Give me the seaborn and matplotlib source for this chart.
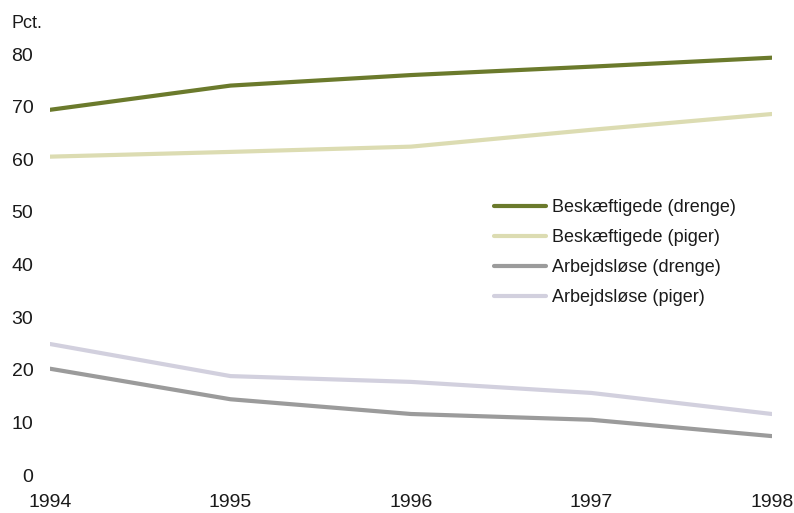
import matplotlib
matplotlib.use("Agg")
import matplotlib.pyplot as plt
import seaborn as sns
import pandas as pd

years = [1994, 1995, 1996, 1997, 1998]
besk_drenge = [69.4, 74.0, 76.0, 77.6, 79.3]
besk_piger = [60.5, 61.4, 62.4, 65.6, 68.6]
arb_drenge = [20.2, 14.4, 11.6, 10.5, 7.4]
arb_piger = [24.9, 18.8, 17.7, 15.6, 11.6]
series_names = ["Beskæftigede (drenge)", "Beskæftigede (piger)",
                "Arbejdsløse (drenge)", "Arbejdsløse (piger)"]
y_ticks = [0, 10, 20, 30, 40, 50, 60, 70, 80]
x_ticks = [1994, 1995, 1996, 1997, 1998]

colors = ["#6b7a2c", "#dcdcb2", "#9b9b9b", "#d2d0de"]

sns.set_style("white")
plt.rcParams["font.family"] = ["Liberation Sans", "DejaVu Sans"]

rows = []
for name, vals in zip(series_names, [besk_drenge, besk_piger, arb_drenge, arb_piger]):
    for y, v in zip(years, vals):
        rows.append({"year": y, "value": v, "series": name})
df = pd.DataFrame(rows)

fig = plt.figure(figsize=(7.94, 5.13), dpi=100)
ax = fig.add_axes([0.063, 0.074, 0.909, 0.8207])
sns.lineplot(data=df, x="year", y="value", hue="series", hue_order=series_names,
             palette=colors, linewidth=3, ax=ax, legend=True)

ax.set_xlim(1994, 1998)
ax.set_ylim(0, 80)
ax.set_xticks(x_ticks)
ax.set_yticks(y_ticks)
ax.set_xticklabels([str(x) for x in x_ticks], fontsize=14, color="#1a1a1a")
ax.set_yticklabels([str(v) for v in y_ticks], fontsize=14, color="#1a1a1a")
ax.tick_params(axis="both", length=0)
ax.tick_params(axis="y", pad=12)
ax.tick_params(axis="x", pad=14)
for s in ax.spines.values():
    s.set_visible(False)
ax.set_xlabel("")
ax.set_ylabel("")
ax.grid(False)

fig.text(0.014, 0.955, "Pct.", fontsize=13, color="#1a1a1a", ha="left", va="center")

leg = ax.legend(loc="upper left", bbox_to_anchor=(0.605, 0.672), frameon=False,
                fontsize=13, handlelength=2.9, handletextpad=0.3, labelspacing=0.72,
                borderaxespad=0)
for t in leg.get_texts():
    t.set_color("#1a1a1a")

fig.savefig("out.png", dpi=100)
